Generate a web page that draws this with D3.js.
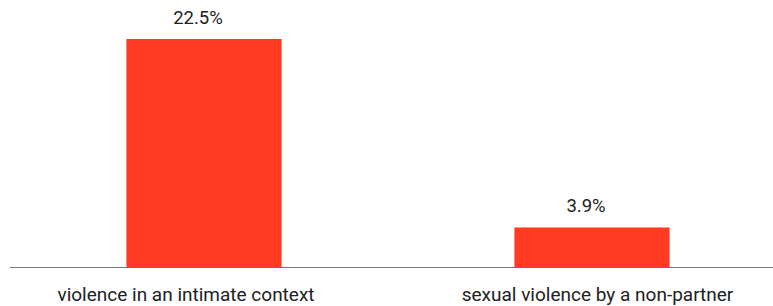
<!DOCTYPE html>
<html>
<head>
<meta charset="utf-8">
<script src="https://cdn.jsdelivr.net/npm/d3@7"></script>
<style>
  body { margin: 0; background: #fff; }
  text { font-family: Roboto, sans-serif; fill: #212121; }
</style>
</head>
<body>
<div id="chart"></div>
<script>
/* DATA */
const categories = ["violence in an intimate context", "sexual violence by a non-partner"];
const values = [22.5, 3.9];
const valueLabels = ["22.5%", "3.9%"];
// small horizontal nudges seen in the original label placement
const catNudge = [-18, 5.5];
const valNudge = [-6, -6];

/* CONSTANTS */
const width = 773,
  height = 306,
  margin = { top: 39, bottom: 39, left: 10, right: -13 },
  barColor = "#ff3b22";

const svg = d3.select("#chart")
  .append("svg")
  .attr("width", width)
  .attr("height", height);

// + SCALES
const xScale = d3.scaleBand()
  .domain(categories)
  .range([margin.left, width - margin.right])
  .paddingInner(0.6)
  .paddingOuter(0.3);

const yScale = d3.scaleLinear()
  .domain([0, d3.max(values)])
  .range([height - margin.bottom, margin.top]);

const data = categories.map((c, i) => ({ cat: c, value: values[i], label: valueLabels[i], i }));

// + BARS
svg.selectAll("rect.bar")
  .data(data)
  .join("rect")
  .attr("class", "bar")
  .attr("x", d => xScale(d.cat))
  .attr("width", xScale.bandwidth())
  .attr("y", d => yScale(d.value))
  .attr("height", d => yScale(0) - yScale(d.value))
  .attr("fill", barColor);

// + VALUE LABELS
svg.selectAll("text.value")
  .data(data)
  .join("text")
  .attr("class", "value")
  .attr("x", d => xScale(d.cat) + xScale.bandwidth() / 2 + valNudge[d.i])
  .attr("y", d => yScale(d.value) - 15.5)
  .attr("text-anchor", "middle")
  .attr("font-size", 18.5)
  .text(d => d.label);

// + AXIS
const xAxis = d3.axisBottom(xScale).tickSize(0).tickPadding(0);
const gx = svg.append("g")
  .attr("class", "axis x-axis")
  .attr("transform", `translate(0,${yScale(0) + 0.5})`)
  .call(xAxis);

gx.select(".domain")
  .attr("d", `M${margin.left},0H${width}`)
  .attr("stroke", "#757575")
  .attr("stroke-width", 1.2);

gx.selectAll(".tick text")
  .attr("font-size", 19)
  .attr("font-family", "Roboto, sans-serif")
  .attr("fill", "#212121")
  .attr("dy", 0)
  .attr("y", 33)
  .attr("dx", (d, i) => catNudge[i]);
</script>
</body>
</html>
